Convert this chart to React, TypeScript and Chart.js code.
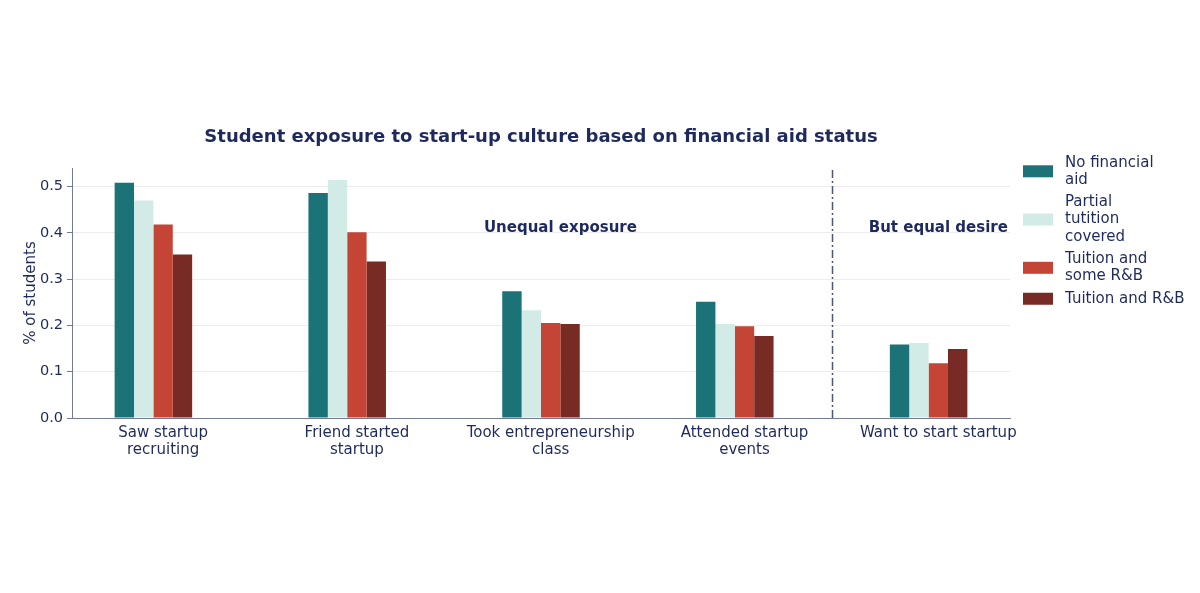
import { useEffect, useRef } from 'react'
import { Chart, registerables } from 'chart.js'

Chart.register(...registerables)

const categories = [
  ['Saw startup', 'recruiting'],
  ['Friend started', 'startup'],
  ['Took entrepreneurship', 'class'],
  ['Attended startup', 'events'],
  ['Want to start startup'],
]
const seriesNames = ['No financial aid', 'Partial tutition covered', 'Tuition and some R&B', 'Tuition and R&B']
const legendLines = [['No financial', 'aid'], ['Partial', 'tutition', 'covered'], ['Tuition and', 'some R&B'], ['Tuition and R&B']]
const colors = ['#1b7378', '#d2ebe7', '#c44535', '#772b24']

const noAid = [0.508, 0.486, 0.274, 0.251, 0.159]
const partialTuition = [0.470, 0.514, 0.233, 0.203, 0.162]
const someRB = [0.418, 0.401, 0.205, 0.198, 0.118]
const fullRB = [0.353, 0.338, 0.203, 0.177, 0.149]
const seriesValues = [noAid, partialTuition, someRB, fullRB]

const yTicks = [0, 0.1, 0.2, 0.3, 0.4, 0.5]
const dividerAt = 3.45
const notes = [
  { text: 'Unequal exposure', x: 2.05, y: 0.41 },
  { text: 'But equal desire', x: 4.0, y: 0.41 },
]

const NAVY = '#1f2a5c'
const AXIS = '#747a96'
const FONT = '"DejaVu Sans", sans-serif'

const overlay = {
  id: 'overlay',
  afterDraw(chart: any) {
    const { ctx, chartArea, scales } = chart
    const x = scales.x
    const y = scales.y
    ctx.save()
    // title
    ctx.fillStyle = NAVY
    ctx.font = `bold 18px ${FONT}`
    ctx.textAlign = 'center'
    ctx.textBaseline = 'middle'
    ctx.fillText('Student exposure to start-up culture based on financial aid status', (chartArea.left + chartArea.right) / 2, 137.5)

    // divider
    ctx.strokeStyle = '#4d5479'
    ctx.lineWidth = 1.5
    ctx.setLineDash([8, 3, 2, 3])
    const dx = Math.round(x.getPixelForValue(dividerAt)) + 0.5
    ctx.beginPath()
    ctx.moveTo(dx, y.getPixelForValue(0))
    ctx.lineTo(dx, chartArea.top)
    ctx.stroke()
    ctx.setLineDash([])

    // annotations
    ctx.font = `bold 15px ${FONT}`
    notes.forEach(n => {
      ctx.fillText(n.text, x.getPixelForValue(n.x), y.getPixelForValue(n.y))
    })

    // legend
    ctx.textAlign = 'left'
    ctx.font = `15px ${FONT}`
    let top = 154
    const lh = 17.3
    legendLines.forEach((lines, i) => {
      const h = lines.length * lh
      const cy = top + h / 2
      ctx.fillStyle = colors[i]
      ctx.fillRect(1023, cy - 6, 30, 12)
      ctx.fillStyle = NAVY
      lines.forEach((l, j) => ctx.fillText(l, 1065, top + lh * (j + 0.5)))
      top += h + 5
    })
    ctx.restore()
  },
}

export default function App() {
  const canvasRef = useRef<HTMLCanvasElement>(null)

  useEffect(() => {
    if (!canvasRef.current) return
    const datasets: any[] = seriesValues.map((vals, i) => ({
      label: seriesNames[i],
      data: vals.map((v, k) => ({ x: k, y: v })),
      backgroundColor: colors[i],
      borderWidth: 0,
      categoryPercentage: 0.5,
      barPercentage: 1,
    }))
    // plotly leaves room for a fifth (empty) slot in each group
    datasets.push({ label: '', data: [], categoryPercentage: 0.5, barPercentage: 1 })

    const chart = new Chart(canvasRef.current, {
      type: 'bar',
      data: { datasets },
      plugins: [overlay],
      options: {
        animation: false,
        responsive: true,
        maintainAspectRatio: false,
        layout: { padding: { top: 168, right: 190, left: 0, bottom: 0 } },
        plugins: { legend: { display: false }, tooltip: { enabled: false } },
        scales: {
          x: {
            type: 'linear',
            min: -0.47,
            max: 4.37,
            offset: false,
            grid: { display: false, drawTicks: false, tickLength: 0 },
            border: { color: AXIS, width: 1 },
            ticks: {
              includeBounds: false,
              stepSize: 1,
              autoSkip: false,
              maxRotation: 0,
              padding: 7,
              color: NAVY,
              font: { family: FONT, size: 15, lineHeight: 1.1 },
              callback: (v: any) => categories[v as number] ?? '',
            },
            afterBuildTicks: (s: any) => { s.ticks = categories.map((_, i) => ({ value: i })) },
            afterFit: (s: any) => { s.height = 175 },
          },
          y: {
            min: 0,
            max: 0.54,
            grid: { color: '#ececf0', tickColor: AXIS, tickLength: 5 },
            border: { color: AXIS, width: 1 },
            ticks: {
              includeBounds: false,
              stepSize: 0.1,
              padding: 4,
              color: NAVY,
              font: { family: FONT, size: 14.5 },
              callback: (v: any) => Number(v).toFixed(1),
            },
            afterBuildTicks: (s: any) => { s.ticks = yTicks.map(v => ({ value: v })) },
            title: { display: true, text: '% of students', color: NAVY, font: { family: FONT, size: 15 }, padding: 22 },
            afterFit: (s: any) => { s.width = 72 },
          },
        },
      },
    })
    return () => { chart.destroy() }
  }, [])

  return (
    <div style={{ position: 'fixed', left: 0, top: 0, width: 1200, height: 593, background: '#fff' }}>
      <canvas ref={canvasRef} />
    </div>
  )
}
